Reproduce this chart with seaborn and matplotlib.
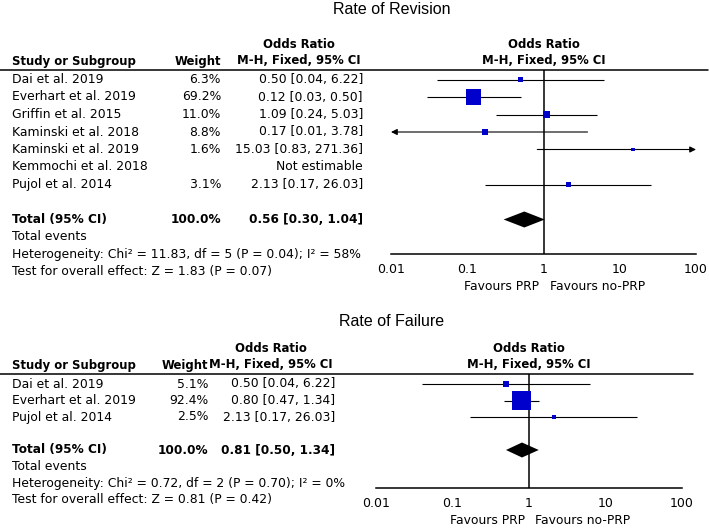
import numpy as np
import pandas as pd
import seaborn as sns
import matplotlib.pyplot as plt
import matplotlib.transforms as mtransforms
from matplotlib.lines import Line2D

# --- Rate of Revision ---
rev_study = ['Dai et al. 2019', 'Everhart et al. 2019', 'Griffin et al. 2015',
             'Kaminski et al. 2018', 'Kaminski et al. 2019', 'Kemmochi et al. 2018',
             'Pujol et al. 2014']
rev_weight = [6.3, 69.2, 11.0, 8.8, 1.6, np.nan, 3.1]
rev_or = [0.50, 0.12, 1.09, 0.17, 15.03, np.nan, 2.13]
rev_lo = [0.04, 0.03, 0.24, 0.01, 0.83, np.nan, 0.17]
rev_hi = [6.22, 0.50, 5.03, 3.78, 271.36, np.nan, 26.03]
rev_total = [0.56, 0.30, 1.04]
rev_het = 'Heterogeneity: Chi² = 11.83, df = 5 (P = 0.04); I² = 58%'
rev_test = 'Test for overall effect: Z = 1.83 (P = 0.07)'

# --- Rate of Failure ---
fail_study = ['Dai et al. 2019', 'Everhart et al. 2019', 'Pujol et al. 2014']
fail_weight = [5.1, 92.4, 2.5]
fail_or = [0.50, 0.80, 2.13]
fail_lo = [0.04, 0.47, 0.17]
fail_hi = [6.22, 1.34, 26.03]
fail_total = [0.81, 0.50, 1.34]
fail_het = 'Heterogeneity: Chi² = 0.72, df = 2 (P = 0.70); I² = 0%'
fail_test = 'Test for overall effect: Z = 0.81 (P = 0.42)'

tick_vals = [0.01, 0.1, 1, 10, 100]
tick_labels = ['0.01', '0.1', '1', '10', '100']

sns.set_style('white')
plt.rcParams['font.family'] = ['DejaVu Sans']
plt.rcParams['text.color'] = 'black'

W, H = 709, 528
fig = plt.figure(figsize=(W / 100, H / 100), dpi=100)
FS = 8.9      # regular text
FB = 8.4      # bold headers
FT = 8.7      # bold total row
BLUE = '#0000CC'


def fx(px):
    return px / W


def fy(py):
    return 1 - py / H


def panel(title, study, weight, odds, lo, hi, total, het, test, lay):
    row0, dy = lay['row0'], lay['dy']
    ytop = (lay['line_y'] - row0) / dy
    ybot = (lay['axis_y'] - row0) / dy
    ax = fig.add_axes([fx(lay['x0']), fy(lay['axis_y']),
                       fx(lay['x1'] - lay['x0']), (lay['axis_y'] - lay['line_y']) / H])
    ax.set_xscale('log')
    ax.set_xlim(0.01, 100)
    ax.set_ylim(ybot, ytop)
    ax.patch.set_alpha(0)

    n = len(study)
    df = pd.DataFrame({'row': np.arange(n), 'weight': weight, 'or': odds,
                       'lo': lo, 'hi': hi}).dropna()

    # confidence intervals (with arrows when they run off the scale)
    for _, r in df.iterrows():
        left = max(r['lo'], 0.01)
        right = min(r['hi'], 100)
        if r['lo'] <= 0.01:
            ax.annotate('', xy=(left, r['row']), xytext=(right, r['row']),
                        arrowprops=dict(arrowstyle='-|>', color='black', lw=0.8,
                                        mutation_scale=9, shrinkA=0, shrinkB=0))
        elif r['hi'] >= 100:
            ax.annotate('', xy=(right, r['row']), xytext=(left, r['row']),
                        arrowprops=dict(arrowstyle='-|>', color='black', lw=0.8,
                                        mutation_scale=9, shrinkA=0, shrinkB=0))
        else:
            ax.hlines(r['row'], left, right, color='black', lw=0.8)

    sns.scatterplot(data=df, x='or', y='row', size='weight', sizes=(5, lay['smax']),
                    size_norm=(0, 100), marker='s', color=BLUE, linewidth=0,
                    legend=False, ax=ax, zorder=3)

    # pooled diamond
    trow = n + 1
    est, tlo, thi = total
    hh = lay['dh'] / dy
    ax.fill([tlo, est, thi, est], [trow, trow - hh, trow, trow + hh],
            color='black', lw=0, zorder=4)

    ax.axvline(1, color='black', lw=1.1)
    ax.set_xticks(tick_vals)
    ax.set_xticklabels(tick_labels)
    ax.minorticks_off()
    ax.set_yticks([])
    ax.set_xlabel('')
    ax.set_ylabel('')
    for s in ['top', 'left', 'right']:
        ax.spines[s].set_visible(False)
    ax.spines['bottom'].set_linewidth(1.1)
    ax.spines['bottom'].set_color('black')
    ax.tick_params(axis='x', direction='inout', length=7, width=1.1, pad=3,
                   labelsize=9, colors='black')

    # table text
    tr = mtransforms.blended_transform_factory(fig.transFigure, ax.transData)
    sx, wx, ox = fx(lay['study_x']), fx(lay['weight_x']), fx(lay['or_x'])
    for i in range(n):
        ax.text(sx, i, study[i], transform=tr, ha='left', va='center', fontsize=FS)
        if not np.isnan(weight[i]):
            ax.text(wx, i, f'{weight[i]:.1f}%', transform=tr, ha='right',
                    va='center', fontsize=FS)
        if np.isnan(odds[i]):
            txt = 'Not estimable'
        else:
            txt = f'{odds[i]:.2f} [{lo[i]:.2f}, {hi[i]:.2f}]'
        ax.text(ox, i, txt, transform=tr, ha='right', va='center', fontsize=FS)
    ax.text(sx, trow, 'Total (95% CI)', transform=tr, ha='left', va='center',
            fontsize=FT, fontweight='bold')
    ax.text(wx, trow, '100.0%', transform=tr, ha='right', va='center',
            fontsize=FT, fontweight='bold')
    ax.text(ox, trow, f'{est:.2f} [{tlo:.2f}, {thi:.2f}]', transform=tr,
            ha='right', va='center', fontsize=FT, fontweight='bold')
    ax.text(sx, trow + 1, 'Total events', transform=tr, ha='left', va='center', fontsize=FS)
    ax.text(sx, trow + 2, het, transform=tr, ha='left', va='center', fontsize=FS)
    ax.text(sx, trow + 3, test, transform=tr, ha='left', va='center', fontsize=FS)

    # headers
    hy1, hy2 = fy(lay['line_y'] - 26), fy(lay['line_y'] - 9)
    fig.text(sx, hy2, 'Study or Subgroup', ha='left', va='center', fontsize=FB, fontweight='bold')
    fig.text(wx, hy2, 'Weight', ha='right', va='center', fontsize=FB, fontweight='bold')
    fig.text(fx(lay['or_x'] - 64), hy1, 'Odds Ratio', ha='center', va='center',
             fontsize=FB, fontweight='bold')
    fig.text(fx(lay['or_x'] - 64), hy2, 'M-H, Fixed, 95% CI', ha='center', va='center',
             fontsize=FB, fontweight='bold')
    tx = mtransforms.blended_transform_factory(ax.transData, fig.transFigure)
    ax.text(1, hy1, 'Odds Ratio', transform=tx, ha='center', va='center',
            fontsize=FB, fontweight='bold')
    ax.text(1, hy2, 'M-H, Fixed, 95% CI', transform=tx, ha='center', va='center',
            fontsize=FB, fontweight='bold')
    fav_y = fy(lay['axis_y'] + 33)
    ax.text(1, fav_y, 'Favours PRP', ha='right', va='center', fontsize=FS,
            transform=mtransforms.offset_copy(tx, fig=fig, x=-4, units='dots'))
    ax.text(1, fav_y, 'Favours no-PRP', ha='left', va='center', fontsize=FS,
            transform=mtransforms.offset_copy(tx, fig=fig, x=6, units='dots'))

    fig.add_artist(Line2D([0, fx(lay['line_x1'])], [fy(lay['line_y'])] * 2,
                          color='black', lw=1.1, transform=fig.transFigure))
    fig.text(fx(392), fy(lay['title_y']), title, ha='center', va='center',
             fontsize=11.5, family='Liberation Sans')
    return ax


panel('Rate of Revision', rev_study, rev_weight, rev_or, rev_lo, rev_hi,
      rev_total, rev_het, rev_test,
      dict(row0=79.5, dy=17.5, line_y=70, axis_y=254, x0=391, x1=696,
           study_x=12, weight_x=221, or_x=363, line_x1=708, title_y=10,
           smax=175, dh=8))
panel('Rate of Failure', fail_study, fail_weight, fail_or, fail_lo, fail_hi,
      fail_total, fail_het, fail_test,
      dict(row0=384, dy=16.5, line_y=374, axis_y=488, x0=376, x1=682,
           study_x=12, weight_x=208, or_x=335, line_x1=693, title_y=322,
           smax=210, dh=7.5))

fig.savefig('out.png', dpi=100)
